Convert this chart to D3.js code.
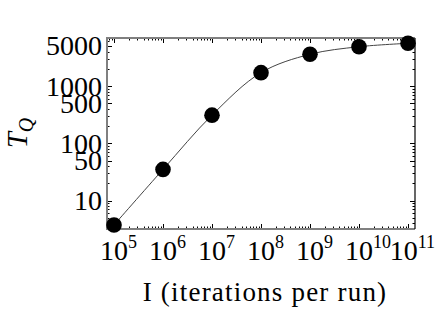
<!DOCTYPE html>
<html>
<head>
<meta charset="utf-8">
<script src="https://cdn.jsdelivr.net/npm/d3@7"></script>
<style>
  body { margin: 0; background: #fff; }
  text { font-family: "Liberation Serif", "DejaVu Serif", serif; fill: #000; }
</style>
</head>
<body>
<div id="canvas"></div>
<script>
const width = 436;
const height = 310;
const margin = { top: 38, left: 107, bottom: 81, right: 21 };
const iwidth = width - margin.left - margin.right;
const iheight = height - margin.top - margin.bottom;

// data
const iterations = [1e5, 1e6, 1e7, 1e8, 1e9, 1e10, 1e11];
const tq = [3.75, 35, 310, 1710, 3580, 4850, 5560];
const xExponents = [5, 6, 7, 8, 9, 10, 11];
const yTickLabels = [10, 50, 100, 500, 1000, 5000];

const svg = d3.select("#canvas").append("svg")
  .attr("width", width)
  .attr("height", height);

const g = svg.append("g")
  .attr("transform", `translate(${margin.left},${margin.top})`);

const x = d3.scaleLog()
  .domain([Math.pow(10, 4.857), Math.pow(10, 11.143)])
  .range([0, iwidth]);

const y = d3.scaleLog()
  .domain([Math.pow(10, 0.504), Math.pow(10, 3.838)])
  .range([iheight, 0]);

// minor ticks
const xMinor = [];
for (let e = 4; e <= 11; e++) {
  for (let m = 2; m <= 9; m++) {
    const v = m * Math.pow(10, e);
    if (v > x.domain()[0] && v < x.domain()[1]) xMinor.push(v);
  }
}
const yMinor = [];
for (let e = 0; e <= 3; e++) {
  for (let m = 1; m <= 9; m++) {
    const v = m * Math.pow(10, e);
    if (v > y.domain()[0] && v < y.domain()[1] && !yTickLabels.includes(v)) yMinor.push(v);
  }
}

const ticks = g.append("g").attr("stroke", "#000").attr("stroke-width", 1);
const majLen = 5, minLen = 2.5;

iterations.forEach((v) => {
  const px = Math.round(x(v)) + 0.5;
  ticks.append("line").attr("x1", px).attr("x2", px).attr("y1", iheight).attr("y2", iheight - majLen);
  ticks.append("line").attr("x1", px).attr("x2", px).attr("y1", 0).attr("y2", majLen);
});
xMinor.forEach((v) => {
  const px = Math.round(x(v)) + 0.5;
  ticks.append("line").attr("x1", px).attr("x2", px).attr("y1", iheight).attr("y2", iheight - minLen);
  ticks.append("line").attr("x1", px).attr("x2", px).attr("y1", 0).attr("y2", minLen);
});
yTickLabels.forEach((v) => {
  const py = Math.round(y(v)) + 0.5;
  ticks.append("line").attr("x1", 0).attr("x2", majLen).attr("y1", py).attr("y2", py);
  ticks.append("line").attr("x1", iwidth).attr("x2", iwidth - majLen).attr("y1", py).attr("y2", py);
});
yMinor.forEach((v) => {
  const py = Math.round(y(v)) + 0.5;
  ticks.append("line").attr("x1", 0).attr("x2", minLen).attr("y1", py).attr("y2", py);
  ticks.append("line").attr("x1", iwidth).attr("x2", iwidth - minLen).attr("y1", py).attr("y2", py);
});

// frame
g.append("path")
  .attr("d", `M${iwidth},0H0V${iheight}H${iwidth}`)
  .attr("fill", "none")
  .attr("stroke", "#808080")
  .attr("stroke-width", 2);
g.append("line")
  .attr("x1", iwidth).attr("x2", iwidth)
  .attr("y1", 0).attr("y2", iheight)
  .attr("stroke", "#000")
  .attr("stroke-width", 1.2);

// curve
const line = d3.line()
  .x((d, i) => x(iterations[i]))
  .y((d) => y(d))
  .curve(d3.curveCatmullRom);

g.append("path")
  .datum(tq)
  .attr("d", line)
  .attr("fill", "none")
  .attr("stroke", "#444")
  .attr("stroke-width", 1);

g.selectAll("circle")
  .data(tq)
  .enter()
  .append("circle")
  .attr("cx", (d, i) => x(iterations[i]))
  .attr("cy", (d) => y(d))
  .attr("r", 7.8)
  .attr("fill", "#000");

// x tick labels: "10" centred on the tick, exponent after it
const xl = g.append("g");
xExponents.forEach((e, i) => {
  const t = xl.append("text")
    .attr("x", x(iterations[i]) - 14)
    .attr("y", iheight + 31)
    .style("font-size", "28px");
  t.append("tspan").text("10");
  t.append("tspan").attr("dy", -12).style("font-size", "18px").text(e);
  const box = t.node().getBBox();
  const over = margin.left + box.x + box.width - (width - 1);
  if (over > 0) t.attr("x", x(iterations[i]) - 14 - over);
});

// y tick labels
g.append("g").selectAll("text")
  .data(yTickLabels)
  .enter()
  .append("text")
  .attr("x", -5)
  .attr("y", (d) => y(d) + 9.5)
  .attr("text-anchor", "end")
  .style("font-size", "28px")
  .text((d) => d);

// axis titles
svg.append("text")
  .attr("x", 265)
  .attr("y", 301)
  .attr("text-anchor", "middle")
  .style("font-size", "27px")
  .style("letter-spacing", "1.2px")
  .text("I (iterations per run)");

const yt = svg.append("text")
  .attr("transform", "translate(27,133) rotate(-90)")
  .attr("text-anchor", "middle")
  .style("font-size", "29px")
  .style("font-style", "italic");
yt.append("tspan").text("T");
yt.append("tspan").attr("dy", 6).style("font-size", "20px").text("Q");
</script>
</body>
</html>
